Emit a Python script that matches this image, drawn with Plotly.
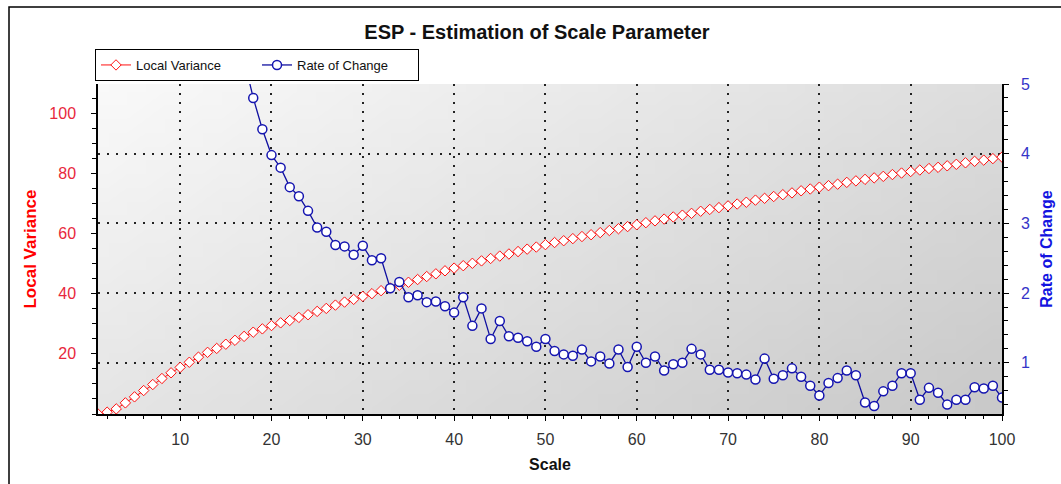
import base64
import struct
import zlib
import plotly.graph_objects as go

# ---------------- data ----------------
scale = list(range(1, 101))
local_variance = [
    0.0, 0.6, 1.7, 3.7, 5.7, 7.8, 9.8, 11.8, 13.7, 15.5,
    17.2, 18.9, 20.5, 21.8, 23.2, 24.5, 25.8, 27.2, 28.3, 29.4,
    30.3, 31.1, 32.1, 33.0, 34.1, 35.1, 36.2, 37.2, 38.1, 39.1,
    40.0, 41.0, 41.9, 42.8, 43.8, 44.7, 45.7, 46.6, 47.6, 48.5,
    49.3, 50.1, 50.9, 51.7, 52.5, 53.2, 54.0, 54.8, 55.5, 56.3,
    57.0, 57.6, 58.3, 59.0, 59.6, 60.3, 61.0, 61.6, 62.3, 62.9,
    63.6, 64.2, 64.8, 65.5, 66.1, 66.7, 67.4, 68.0, 68.6, 69.2,
    69.8, 70.4, 71.1, 71.7, 72.3, 72.9, 73.5, 74.2, 74.8, 75.4,
    75.9, 76.4, 77.0, 77.5, 78.0, 78.5, 79.0, 79.6, 80.1, 80.6,
    81.1, 81.6, 82.0, 82.5, 83.0, 83.5, 84.0, 84.4, 84.9, 85.4,
]
rate_scale = list(range(17, 101))
rate_of_change = [
    5.35, 4.80, 4.35, 3.98, 3.80, 3.52, 3.39, 3.18, 2.94, 2.88,
    2.69, 2.67, 2.55, 2.68, 2.47, 2.50, 2.07, 2.16, 1.94, 1.97,
    1.87, 1.88, 1.81, 1.72, 1.94, 1.53, 1.78, 1.34, 1.60, 1.38,
    1.36, 1.31, 1.23, 1.34, 1.17, 1.12, 1.10, 1.19, 1.02, 1.09,
    0.99, 1.19, 0.94, 1.23, 1.00, 1.09, 0.89, 0.98, 1.00, 1.20,
    1.12, 0.90, 0.90, 0.86, 0.85, 0.83, 0.76, 1.06, 0.77, 0.82,
    0.92, 0.80, 0.67, 0.53, 0.71, 0.78, 0.89, 0.82, 0.43, 0.38,
    0.59, 0.67, 0.85, 0.85, 0.47, 0.64, 0.57, 0.40, 0.47, 0.47,
    0.65, 0.63, 0.67, 0.50,
]
x_ticks = [10, 20, 30, 40, 50, 60, 70, 80, 90, 100]
left_ticks = [20, 40, 60, 80, 100]
right_ticks = [1, 2, 3, 4, 5]

# ---------------- styling ----------------
W, H = 1061, 484
ML, MR, MT, MB = 98, 59, 84, 70
PW, PH = W - ML - MR, H - MT - MB
FONT = "Liberation Sans, Arial, sans-serif"


def gradient_png(w=48, h=24):
    raw = b""
    for j in range(h):
        raw += b"\x00"
        for i in range(w):
            u = i / (w - 1)
            v = j / (h - 1)
            c = int(round(249 - 28 * u - 20 * v))
            raw += bytes([c, c, c])

    def chunk(tag, data):
        return (struct.pack(">I", len(data)) + tag + data +
                struct.pack(">I", zlib.crc32(tag + data) & 0xFFFFFFFF))

    png = b"\x89PNG\r\n\x1a\n"
    png += chunk(b"IHDR", struct.pack(">IIBBBBB", w, h, 8, 2, 0, 0, 0))
    png += chunk(b"IDAT", zlib.compress(raw, 9))
    png += chunk(b"IEND", b"")
    return "data:image/png;base64," + base64.b64encode(png).decode()


def px_x(p):
    return (p - ML) / PW


def px_y(p):
    return (H - MB - p) / PH


fig = go.Figure()
fig.add_trace(go.Scatter(
    x=scale, y=local_variance, name="Local Variance", mode="lines+markers",
    line=dict(color="#ff1010", width=1),
    marker=dict(symbol="diamond", size=8, color="white",
                line=dict(color="#ff1010", width=1)),
    xaxis="x", yaxis="y",
))
fig.add_trace(go.Scatter(
    x=rate_scale, y=rate_of_change, name="Rate of Change", mode="lines+markers",
    line=dict(color="#1010a0", width=1.3),
    marker=dict(symbol="circle", size=9, color="white",
                line=dict(color="#1515b0", width=1.5)),
    xaxis="x", yaxis="y2",
))

grid = dict(showgrid=True, gridcolor="#222222", griddash="2px,7px", gridwidth=1.5)
axis_common = dict(showline=False, zeroline=False, tickcolor="black", tickwidth=1.3)

fig.update_layout(
    width=W, height=H,
    margin=dict(l=ML, r=MR, t=MT, b=MB, autoexpand=False),
    paper_bgcolor="white",
    plot_bgcolor="rgba(0,0,0,0)",
    font=dict(family=FONT, size=15, color="#333333"),
    title=dict(text="ESP - Estimation of Scale Parameter", x=537 / W, xanchor="center",
               y=1 - 32 / H, yanchor="middle",
               font=dict(family=FONT, size=20, color="#111111", weight="bold")),
    showlegend=True,
    legend=dict(orientation="h", x=px_x(95), y=px_y(65), xanchor="left", yanchor="middle",
                bgcolor="white", bordercolor="black", borderwidth=1,
                font=dict(family=FONT, size=13, color="#111111"),
                itemwidth=30, tracegroupgap=0, entrywidth=116),
    xaxis=dict(
        range=[1, 100], domain=[0, 1], anchor="y", side="bottom",
        showline=True, linecolor="black", linewidth=1.5, zeroline=False,
        ticks="outside", ticklen=5, tickwidth=1.3, tickcolor="black",
        tickmode="array", tickvals=x_ticks, ticktext=[str(v) for v in x_ticks],
        minor=dict(ticks="outside", dtick=2, tick0=0, ticklen=3, tickcolor="black",
                   tickwidth=1, showgrid=False),
        tickfont=dict(family=FONT, size=16, color="#333333"),
        ticklabelstandoff=5,
        title=dict(text="Scale", standoff=12,
                   font=dict(family=FONT, size=16, color="#111111", weight="bold")),
        **grid,
    ),
    xaxis2=dict(
        range=[1, 100], overlaying="x", anchor="y", side="bottom",
        ticks="inside", ticklen=5, tickmode="array", tickvals=x_ticks,
        minor=dict(ticks="inside", dtick=2, tick0=0, ticklen=3, tickcolor="black", tickwidth=1),
        showticklabels=False, showgrid=False, **axis_common,
    ),
    xaxis3=dict(
        range=[1, 100], overlaying="x", anchor="y", side="top",
        ticks="inside", ticklen=5, tickmode="array", tickvals=x_ticks,
        minor=dict(ticks="inside", dtick=2, tick0=0, ticklen=3, tickcolor="black", tickwidth=1),
        showticklabels=False, showgrid=False,
        showline=True, linecolor="black", linewidth=1.5, zeroline=False,
        tickcolor="black", tickwidth=1.3,
    ),
    yaxis=dict(
        range=[0, 109.7], domain=[0, 1], anchor="x", side="left",
        showline=True, linecolor="black", linewidth=1.5, zeroline=False,
        ticks="outside", ticklen=5, tickwidth=1.3, tickcolor="black",
        tickmode="array", tickvals=left_ticks, ticktext=[str(v) for v in left_ticks],
        minor=dict(ticks="outside", dtick=5, tick0=0, ticklen=4, tickcolor="black",
                   tickwidth=1, showgrid=False),
        tickfont=dict(family=FONT, size=16, color="#e8283c"),
        ticklabelstandoff=12,
        showgrid=False,
        title=dict(text="Local Variance", standoff=8,
                   font=dict(family=FONT, size=17, color="#ff0000", weight="bold")),
    ),
    yaxis3=dict(
        range=[0, 109.7], overlaying="y", anchor="x", side="left",
        ticks="inside", ticklen=5, tickmode="array", tickvals=left_ticks,
        minor=dict(ticks="inside", dtick=5, tick0=0, ticklen=4, tickcolor="black", tickwidth=1),
        showticklabels=False, showgrid=False, **axis_common,
    ),
    yaxis2=dict(
        range=[0.265, 5], overlaying="y", anchor="x", side="right",
        showline=True, linecolor="black", linewidth=1.5, zeroline=False,
        ticks="outside", ticklen=5, tickwidth=1.3, tickcolor="black",
        tickmode="array", tickvals=right_ticks, ticktext=[str(v) for v in right_ticks],
        minor=dict(ticks="outside", dtick=0.2, tick0=0, ticklen=4, tickcolor="black",
                   tickwidth=1, showgrid=False),
        tickfont=dict(family=FONT, size=16, color="#3434c8"),
        ticklabelstandoff=9,
        title=dict(text="Rate of Change", standoff=12,
                   font=dict(family=FONT, size=16, color="#1414e0", weight="bold")),
        **grid,
    ),
    yaxis4=dict(
        range=[0.265, 5], overlaying="y", anchor="x", side="right",
        ticks="inside", ticklen=5, tickmode="array", tickvals=right_ticks,
        minor=dict(ticks="inside", dtick=0.2, tick0=0, ticklen=4, tickcolor="black", tickwidth=1),
        showticklabels=False, showgrid=False, **axis_common,
    ),
    images=[dict(source=gradient_png(), xref="paper", yref="paper", x=0, y=1,
                 sizex=1, sizey=1, sizing="stretch", xanchor="left", yanchor="top",
                 layer="below")],
    shapes=[dict(type="rect", xref="paper", yref="paper",
                 x0=px_x(9), x1=px_x(1075), y0=px_y(495), y1=px_y(7),
                 line=dict(color="black", width=1.5), fillcolor="rgba(0,0,0,0)",
                 layer="above")],
)

fig.write_html("out.html",
               config={"displayModeBar": False},
               post_script="document.body.style.margin='0';document.body.style.overflow='hidden';")
